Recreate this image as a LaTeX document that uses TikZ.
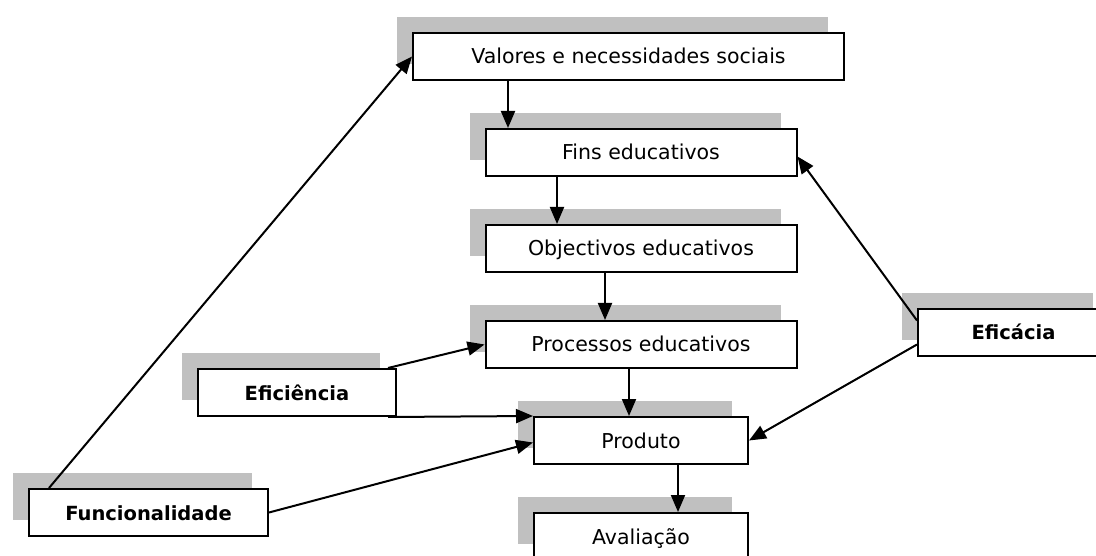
\documentclass[tikz,border=0pt]{standalone}
\usepackage{fontspec}
\setmainfont{DejaVu Sans}
\usetikzlibrary{positioning,arrows.meta,shadows}
\definecolor{shadegray}{RGB}{192,192,192}
\tikzset{
  >={Triangle[length=17pt,width=14pt]},
  box/.style={
    draw,
    fill=white,
    line width=2pt,
    minimum height=47pt,
    inner sep=0pt,
    text height=15pt,
    text depth=0pt,
    font=\fontsize{20.5}{24}\selectfont,
    general shadow={fill=shadegray, shadow xshift=-16pt, shadow yshift=16pt}
  },
  side/.style={
    box,
    font=\fontsize{19.5}{24}\selectfont\bfseries
  }
}

\begin{document}
\begin{tikzpicture}[x=1pt, y=-1pt, node distance=47pt, line width=2pt]
  \useasboundingbox (0,0) rectangle (1096,556);
  \clip (0,0) rectangle (1096,556);

  % main chain
  \node[box, minimum width=431pt] (valores) at (628.5,56.5) {Valores e necessidades sociais};
  \node[box, minimum width=311pt] (fins) at (641,152.5) {Fins educativos};
  \node[box, minimum width=311pt, below=of fins] (objectivos) {Objectivos educativos};
  \node[box, minimum width=311pt, below=of objectivos] (processos) {Processos educativos};
  \node[box, minimum width=214pt, below=of processos] (produto) {Produto};
  \node[box, minimum width=214pt, below=of produto] (avaliacao) {Avaliação};

  % criteria
  \node[side, minimum width=198pt] (eficiencia) at (297,392.5) {Eficiência};
  \node[side, minimum width=239pt] (funcionalidade) at (148.5,512.5) {Funcionalidade};
  \node[side, minimum width=191pt] (eficacia) at (1013.5,332.5) {Eficácia};

  \draw[->] (valores.south -| 508,0) -- (fins.north -| 508,0);
  \draw[->] (fins.south -| 557,0) -- (objectivos.north -| 557,0);
  \draw[->] (objectivos.south -| 605,0) -- (processos.north -| 605,0);
  \draw[->] (processos.south -| 629,0) -- (produto.north -| 629,0);
  \draw[->] (produto.south -| 678,0) -- (avaliacao.north -| 678,0);

  \draw[->] ([xshift=21pt]funcionalidade.north west) -- (valores.west);
  \draw[->] (funcionalidade.east) -- ([yshift=-2pt]produto.west);
  \draw[->] ([xshift=-9pt]eficiencia.north east) -- (processos.west);
  \draw[->] ([xshift=-9pt]eficiencia.south east) -- (produto.north west);
  \draw[->] ([yshift=12pt]eficacia.west) -- ([yshift=-4pt]fins.east);
  \draw[->] ([yshift=-12pt]eficacia.west) -- (produto.east);
\end{tikzpicture}
\end{document}
